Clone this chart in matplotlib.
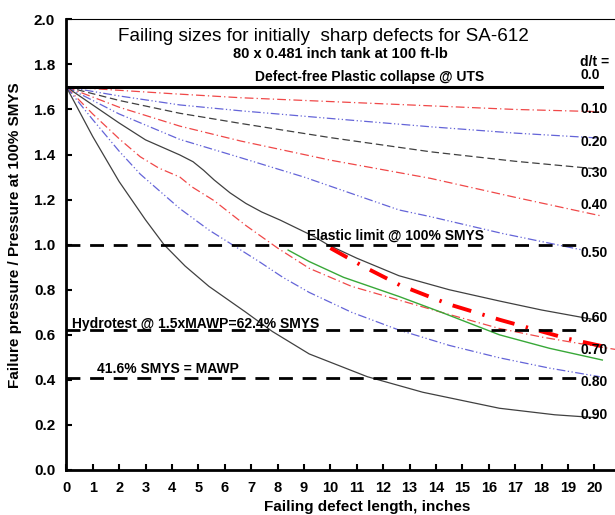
import matplotlib
matplotlib.use("Agg")
import matplotlib.pyplot as plt

plt.rcParams['font.family'] = ['Liberation Sans', 'DejaVu Sans']

# d/t curves: (length, inches) vs failure pressure ratio
x10 = [0, 2, 4, 6.6, 10, 14, 17, 20.2]
y10 = [1.70, 1.685, 1.67, 1.652, 1.635, 1.615, 1.60, 1.59]
x20 = [0, 2, 4.3, 6.6, 10, 13.8, 17, 20.2]
y20 = [1.70, 1.66, 1.62, 1.594, 1.56, 1.523, 1.495, 1.473]
x30 = [0, 2, 4.3, 6.6, 10, 13.8, 17, 20.2]
y30 = [1.70, 1.64, 1.583, 1.538, 1.475, 1.412, 1.37, 1.335]
x40 = [0, 2, 4.3, 6.6, 10, 13.8, 17, 20.2]
y40 = [1.70, 1.61, 1.526, 1.46, 1.375, 1.294, 1.21, 1.129]
x50 = [0, 2, 4.3, 6.6, 9, 12.6, 13.8, 16.5, 19.6]
y50 = [1.70, 1.58, 1.467, 1.386, 1.30, 1.154, 1.124, 1.05, 0.975]
x60 = [0, 1, 2, 3, 4.3, 4.8, 5.2, 5.6, 6.2, 6.8, 7.4, 8.1, 9.4, 9.9, 11, 12.6, 14.5,
       16.4, 18, 19.5, 20.1]
y60 = [1.70, 1.62, 1.54, 1.465, 1.398, 1.368, 1.33, 1.287, 1.23, 1.183, 1.145, 1.109,
       1.035, 1.0, 0.94, 0.862, 0.80, 0.75, 0.71, 0.678, 0.665]
x70 = [0, 1, 2, 2.8, 3.5, 4.3, 4.75, 5.6, 6.8, 8.0, 9.2, 10.8, 12.6, 14.2, 16.4, 18,
       19.5, 20.8]
y70 = [1.70, 1.58, 1.47, 1.39, 1.34, 1.30, 1.257, 1.195, 1.085, 0.985, 0.895, 0.815,
       0.754, 0.70, 0.628, 0.59, 0.56, 0.535]
x80 = [0, 1, 2, 2.8, 4.3, 5.4, 6.8, 7.3, 8.2, 9.2, 10.8, 12.6, 14.5, 16.4, 18.3, 20.2]
y80 = [1.70, 1.555, 1.415, 1.313, 1.16, 1.065, 0.962, 0.925, 0.855, 0.788, 0.70, 0.621,
       0.553, 0.498, 0.452, 0.414]
x90 = [0, 1, 2, 3, 3.7, 4.5, 5.4, 6.8, 7.8, 9.2, 11.4, 13.5, 16.4, 18.5, 20.1]
y90 = [1.70, 1.48, 1.28, 1.11, 1.0, 0.905, 0.815, 0.70, 0.615, 0.515, 0.414, 0.345,
       0.274, 0.245, 0.232]
# extra curves (green solid and thick red dash-dot)
xg = [8.4, 9.2, 10.5, 12.6, 14.2, 16.4, 18.3, 20.3]
yg = [0.976, 0.925, 0.855, 0.77, 0.70, 0.60, 0.54, 0.488]
xr = [10.0, 11.3, 12.64, 14.5, 16.43, 18.95, 20.47]
yr = [0.985, 0.90, 0.82, 0.735, 0.666, 0.584, 0.545]

# reference levels
collapse = 1.70
elastic = 1.0
hydro = 0.621
mawp = 0.41

dt_labels = ["0.0", "0.10", "0.20", "0.30", "0.40", "0.50", "0.60", "0.70", "0.80", "0.90"]
dt_label_y = [1.753, 1.602, 1.455, 1.318, 1.174, 0.962, 0.676, 0.532, 0.391, 0.244]

red = '#f04848'
blue = '#6464d8'
dark = '#404040'
dashdot = (0, (7, 2.5, 1, 2.5))
dashdotdot = (0, (7, 2, 1, 2, 1, 2))

fig = plt.figure(figsize=(6.15, 5.15), dpi=100)
ax = fig.add_axes([0.1078, 0.0874, 0.8922, 0.8751])

ax.plot(x10, y10, color=red, lw=0.9, linestyle=dashdot)
ax.plot(x20, y20, color=blue, lw=0.9, linestyle=dashdotdot)
ax.plot(x30, y30, color=dark, lw=0.9, linestyle=(0, (6, 3)))
ax.plot(x40, y40, color=red, lw=0.9, linestyle=dashdot)
ax.plot(x50, y50, color=blue, lw=0.9, linestyle=dashdotdot)
ax.plot(x60, y60, color=dark, lw=0.9)
ax.plot(x70, y70, color=red, lw=0.9, linestyle=dashdot)
ax.plot(x80, y80, color=blue, lw=0.9, linestyle=dashdotdot)
ax.plot(x90, y90, color=dark, lw=0.9)
ax.plot(xg, yg, color='#38a838', lw=1.0)
ax.plot(xr, yr, color='#ff0000', lw=2.8, linestyle=(0, (5, 3, 0.6, 3)))

ax.plot([0, 20.3], [collapse, collapse], color='black', lw=2.2)
for lvl in [elastic, hydro, mawp]:
    ax.plot([0, 19.6], [lvl, lvl], color='black', lw=2.0, linestyle=(0, (5, 3.5)))

ax.text(9.72, 1.923, "Failing sizes for initially  sharp defects for SA-612",
        ha='center', va='center', fontsize=13.6)
ax.text(10.37, 1.845, "80 x 0.481 inch tank at 100 ft-lb",
        ha='center', va='center', fontsize=10.5, fontweight='bold')
ax.text(11.5, 1.745, "Defect-free Plastic collapse @ UTS",
        ha='center', va='center', fontsize=10, fontweight='bold')
ax.text(9.1, 1.038, "Elastic limit @ 100% SMYS",
        ha='left', va='center', fontsize=10, fontweight='bold')
ax.text(0.2, 0.648, "Hydrotest @ 1.5xMAWP=62.4% SMYS",
        ha='left', va='center', fontsize=10, fontweight='bold')
ax.text(1.15, 0.446, "41.6% SMYS = MAWP",
        ha='left', va='center', fontsize=10, fontweight='bold')

ax.text(19.46, 1.81, "d/t =", ha='left', va='center', fontsize=10, fontweight='bold')
for lab, yy in zip(dt_labels, dt_label_y):
    ax.text(19.46, yy, lab, ha='left', va='center', fontsize=10, fontweight='bold')

ax.set_xlim(0, 20.78)
ax.set_ylim(0, 2.0)
ax.set_xticks(range(0, 21))
ax.set_yticks([i * 0.2 for i in range(11)])
ax.set_yticklabels([f"{i * 0.2:.1f}" for i in range(11)])
ax.tick_params(direction='in', length=4, width=1.5, labelsize=10.5)
ax.tick_params(axis='y', pad=8, labelsize=11)
ax.tick_params(axis='x', pad=8)
for lab in ax.get_xticklabels() + ax.get_yticklabels():
    lab.set_fontweight('bold')

ax.spines['right'].set_visible(False)
ax.spines['top'].set_linewidth(0.8)
ax.spines['left'].set_linewidth(2)
ax.spines['bottom'].set_linewidth(2)

ax.set_ylabel("Failure pressure / Pressure at 100% SMYS", fontsize=11, fontweight='bold')
ax.yaxis.set_label_coords(-0.081, 0.521)
ax.set_xlabel("Failing defect length, inches", fontsize=11, fontweight='bold')
ax.xaxis.set_label_coords(0.548, -0.066)

fig.savefig("out.png", dpi=100)
